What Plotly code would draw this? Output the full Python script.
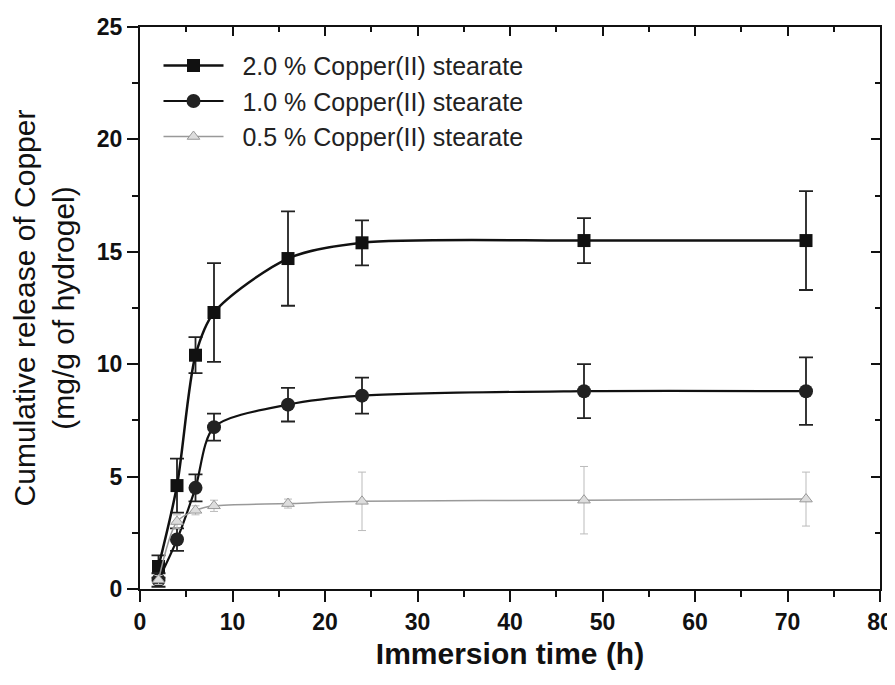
import plotly.graph_objects as go

time_h = [2, 4, 6, 8, 16, 24, 48, 72]

cu20 = [1.0, 4.6, 10.4, 12.3, 14.7, 15.4, 15.5, 15.5]
cu20_err = [0.5, 1.2, 0.8, 2.2, 2.1, 1.0, 1.0, 2.2]

cu10 = [0.4, 2.2, 4.5, 7.2, 8.2, 8.6, 8.8, 8.8]
cu10_err = [0.3, 0.5, 0.6, 0.6, 0.75, 0.8, 1.2, 1.5]

cu05 = [0.4, 3.0, 3.5, 3.7, 3.8, 3.9, 3.95, 4.0]
cu05_err = [0.2, 0.3, 0.2, 0.25, 0.2, 1.3, 1.5, 1.2]

names = ["2.0 % Copper(II) stearate", "1.0 % Copper(II) stearate", "0.5 % Copper(II) stearate"]
x_ticks = [0, 10, 20, 30, 40, 50, 60, 70, 80]
y_ticks = [0, 5, 10, 15, 20, 25]
x_range = [0, 80]
y_range = [0, 25]

FONT = "Liberation Sans, Arial, sans-serif"
PAD = "\u00a0\u00a0"

fig = go.Figure()

fig.add_trace(go.Scatter(
    x=time_h, y=cu20, name=PAD + names[0], mode="lines+markers",
    line=dict(color="#111111", width=2.5, shape="spline", smoothing=0.8),
    marker=dict(symbol="square", size=13, color="#111111"),
    error_y=dict(type="data", array=cu20_err, color="#222222", thickness=1.8, width=7),
))
fig.add_trace(go.Scatter(
    x=time_h, y=cu10, name=PAD + names[1], mode="lines+markers",
    line=dict(color="#111111", width=2.2, shape="spline", smoothing=0.8),
    marker=dict(symbol="circle", size=14, color="#222222"),
    error_y=dict(type="data", array=cu10_err, color="#222222", thickness=1.8, width=7),
))
fig.add_trace(go.Scatter(
    x=time_h, y=cu05, name=PAD + names[2], mode="lines+markers",
    line=dict(color="#999999", width=1.5, shape="spline", smoothing=0.8),
    marker=dict(symbol="triangle-up", size=11, color="#dddddd", line=dict(color="#999999", width=1)),
    error_y=dict(type="data", array=cu05_err, color="#bbbbbb", thickness=1, width=4),
))

axis_common = dict(
    showline=True, linecolor="#111111", linewidth=2, mirror=True,
    showgrid=False, zeroline=False, ticks="outside", ticklen=11, tickwidth=2,
    tickcolor="#111111",
    tickfont=dict(family=FONT, size=23, color="#111111", weight="bold"),
)

fig.update_layout(
    xaxis=dict(
        range=x_range, tickvals=x_ticks,
        minor=dict(dtick=5, ticks="outside", ticklen=6, tickwidth=1.5, tickcolor="#111111"),
        title=dict(text="<b>Immersion time (h)</b>", standoff=9,
                   font=dict(family=FONT, size=30, color="#111111")),
        automargin=False,
        **axis_common,
    ),
    yaxis=dict(
        range=y_range, tickvals=y_ticks,
        minor=dict(dtick=2.5, ticks="outside", ticklen=6, tickwidth=1.5, tickcolor="#111111"),
        title=dict(text="Cumulative release of Copper<br>(mg/g of hydrogel)", standoff=16,
                   font=dict(family=FONT, size=30, color="#111111")),
        automargin=False,
        **axis_common,
    ),
    xaxis2=dict(
        overlaying="x", side="top", anchor="y", range=x_range, tickvals=x_ticks,
        showline=False, showgrid=False, zeroline=False, showticklabels=False,
        ticks="inside", ticklen=9, tickwidth=2, tickcolor="#111111",
        minor=dict(dtick=5, ticks="inside", ticklen=5, tickwidth=1.5, tickcolor="#111111"),
        automargin=False,
    ),
    yaxis2=dict(
        overlaying="y", side="right", anchor="x", range=y_range, tickvals=y_ticks,
        showline=False, showgrid=False, zeroline=False, showticklabels=False,
        ticks="inside", ticklen=9, tickwidth=2, tickcolor="#111111",
        minor=dict(dtick=2.5, ticks="inside", ticklen=5, tickwidth=1.5, tickcolor="#111111"),
        automargin=False,
    ),
    width=895, height=685,
    margin=dict(l=132, r=23, t=19, b=104),
    paper_bgcolor="white", plot_bgcolor="white",
    legend=dict(x=0.025, y=0.972, xanchor="left", yanchor="top",
                bgcolor="rgba(0,0,0,0)", itemwidth=60, tracegroupgap=0,
                font=dict(family=FONT, size=25, color="#222222")),
    showlegend=True,
)

# invisible helper trace so the mirrored inward-tick axes are drawn
fig.add_trace(go.Scatter(x=x_range, y=y_range, xaxis="x2", yaxis="y2", mode="markers",
                         marker=dict(opacity=0), showlegend=False, hoverinfo="skip"))

fig.write_html("out.html")
